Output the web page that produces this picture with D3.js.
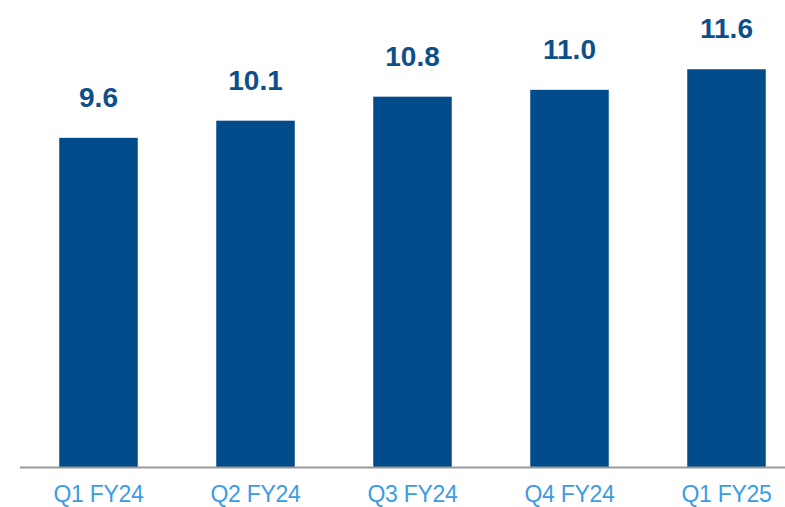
<!DOCTYPE html>
<html>
<head>
<meta charset="utf-8">
<script src="https://cdn.jsdelivr.net/npm/d3@7"></script>
<style>
  html, body { margin: 0; padding: 0; background: #fff; }
  svg { display: block; font-family: "Liberation Sans", Arial, sans-serif; }
</style>
</head>
<body>
<div id="chart"></div>
<script>
const quarters = ['Q1 FY24', 'Q2 FY24', 'Q3 FY24', 'Q4 FY24', 'Q1 FY25'];
const values = [9.6, 10.1, 10.8, 11.0, 11.6];

const W = 785, H = 507;
const base = 467;
const svg = d3.select('#chart').append('svg').attr('width', W).attr('height', H);

const x = d3.scaleBand().domain(quarters).range([20, 805]).paddingInner(0.5).paddingOuter(0.25);
const y = d3.scaleLinear().domain([0, 13.62]).range([base, 0]);

svg.selectAll('rect.bar').data(values).join('rect')
  .attr('class', 'bar')
  .attr('x', (d, i) => x(quarters[i]))
  .attr('y', d => y(d))
  .attr('width', x.bandwidth())
  .attr('height', d => base - y(d))
  .attr('fill', '#024b8b');

svg.selectAll('text.val').data(values).join('text')
  .attr('class', 'val')
  .attr('x', (d, i) => x(quarters[i]) + x.bandwidth() / 2)
  .attr('y', d => y(d) - 31)
  .attr('text-anchor', 'middle')
  .attr('font-size', 28)
  .attr('font-weight', 'bold')
  .attr('fill', '#0d4f8b')
  .text(d => d.toFixed(1));

// category axis
const ax = svg.append('g').attr('transform', `translate(0,${base})`).call(d3.axisBottom(x).tickSize(0).tickPadding(19));
ax.select('.domain').attr('d', 'M20,0.5H785').attr('stroke', '#999').attr('stroke-width', 2);
ax.selectAll('text').attr('font-size', 23).attr('fill', '#3d9be6')
  .attr('font-family', '"Liberation Sans", Arial, sans-serif').attr('letter-spacing', -0.3);
</script>
</body>
</html>
